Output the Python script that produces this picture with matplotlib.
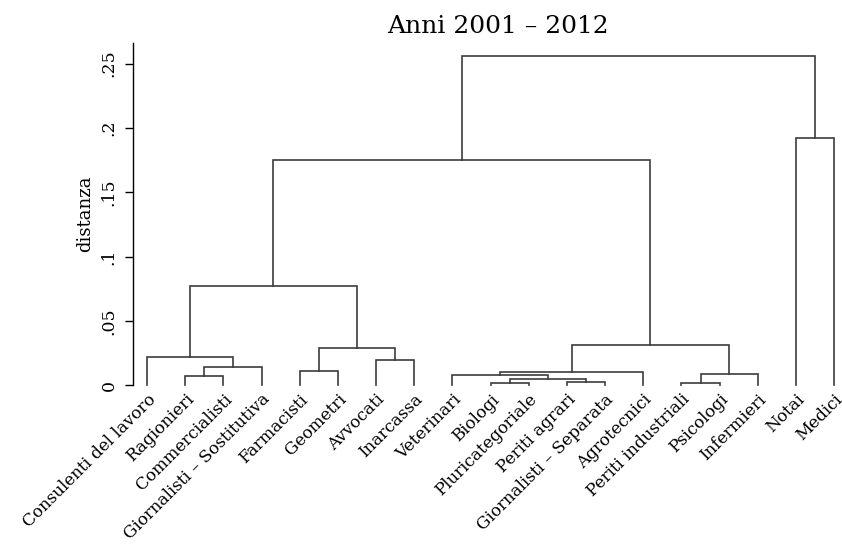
import matplotlib.pyplot as plt
import numpy as np

# leaves of the dendrogram, left to right
categorie = ['Consulenti del lavoro', 'Ragionieri', 'Commercialisti',
             'Giornalisti – Sostitutiva', 'Farmacisti', 'Geometri', 'Avvocati',
             'Inarcassa', 'Veterinari', 'Biologi', 'Pluricategoriale',
             'Periti agrari', 'Giornalisti – Separata', 'Agrotecnici',
             'Periti industriali', 'Psicologi', 'Infermieri', 'Notai', 'Medici']

# merges: (node a, node b, distance); new clusters numbered from 19 on
unione_a = [1, 19, 0, 4, 6, 22, 21, 9, 11, 26, 8, 29, 14, 31, 30, 25, 17, 34]
unione_b = [2, 3, 20, 5, 7, 23, 24, 10, 12, 27, 28, 13, 15, 16, 32, 33, 18, 35]
distanza = [0.0075, 0.0140, 0.0222, 0.0111, 0.0194, 0.0292, 0.0775,
            0.0018, 0.0027, 0.0047, 0.0080, 0.0101, 0.0020, 0.0088,
            0.0313, 0.1752, 0.192, 0.256]

yticks = [0, 0.05, 0.1, 0.15, 0.2, 0.25]
ytick_labels = ['0', '.05', '.1', '.15', '.2', '.25']

plt.rcParams['font.family'] = ['DejaVu Serif']
col = '#3c3c3c'

fig = plt.figure(figsize=(8.42, 5.46), dpi=100)
ax = fig.add_axes([133/842, (546-385.3)/546, (862-133)/842, (385.3-43)/546])

n = len(categorie)
xpos = {i: float(i) for i in range(n)}
ypos = {i: 0.0 for i in range(n)}
for k, (a, b, h) in enumerate(zip(unione_a, unione_b, distanza)):
    xa, xb = xpos[a], xpos[b]
    ax.plot([xa, xa, xb, xb], [ypos[a], h, h, ypos[b]], color=col, lw=1.2,
            solid_joinstyle='miter', clip_on=False)
    xpos[n + k] = (xa + xb) / 2
    ypos[n + k] = h

ax.set_xlim(-0.367, 18.73)
ax.set_ylim(0, 0.266)

ax.set_xticks(range(n))
ax.set_xticklabels(categorie, rotation=45, ha='right', rotation_mode='anchor', fontsize=12.1)
ax.tick_params(axis='x', length=0, pad=4)

ax.set_yticks(yticks)
ax.set_yticklabels(ytick_labels, rotation=90, va='center', fontsize=12.5)
ax.tick_params(axis='y', length=6, width=1, pad=5)
ax.set_ylabel('distanza', fontsize=13, labelpad=5)

for s in ['top', 'right', 'bottom']:
    ax.spines[s].set_visible(False)
ax.spines['left'].set_linewidth(1)

ax.set_title('Anni 2001 – 2012', fontsize=18, pad=7)

plt.savefig('out.png', dpi=100)
